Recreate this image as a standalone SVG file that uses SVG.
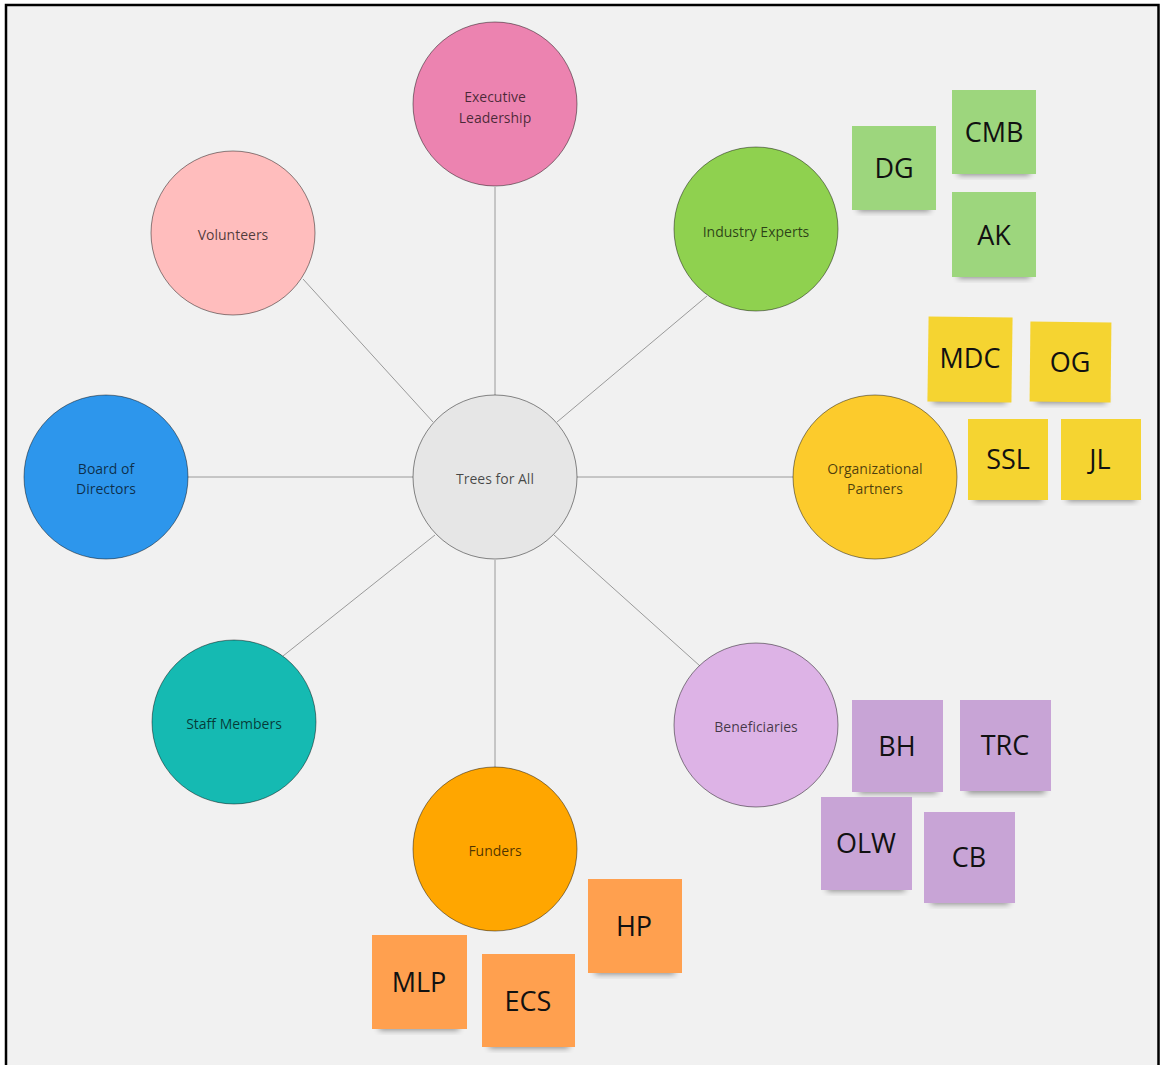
<svg xmlns="http://www.w3.org/2000/svg" width="1160" height="1065" viewBox="0 0 1160 1065">
  <defs>
    <filter id="noteShadow" x="-30%" y="-60%" width="160%" height="220%">
      <feGaussianBlur stdDeviation="3"/>
    </filter>
    <style>
      .bubble { stroke: #000; stroke-opacity: 0.45; stroke-width: 1; }
      .bubble-label { font-family: "Open Sans", "Liberation Sans", sans-serif; font-size: 14px; fill: #000; fill-opacity: 0.7; text-anchor: middle; dominant-baseline: central; }
      .link { stroke: #9a9a9a; stroke-width: 1; fill: none; }
      .note-label { font-family: "Open Sans", "Liberation Sans", sans-serif; font-size: 27px; fill: #111; text-anchor: middle; dominant-baseline: central; }
      .shadow { fill: #000; opacity: 0.45; filter: url(#noteShadow); }
      .green { fill: #9dd67d; }
      .yellow { fill: #f5d431; }
      .purple { fill: #c8a4d6; }
      .orange { fill: #ffa04f; }
    </style>
  </defs>

  <!-- canvas -->
  <rect x="0" y="0" width="1160" height="1065" fill="#ffffff"/>
  <rect x="6" y="5" width="1152.5" height="1075" fill="#f1f1f1" stroke="#000" stroke-width="2.5"/>

  <!-- connectors from hub to each group -->
  <g id="connectors">
    <line class="link" x1="495" y1="395" x2="495" y2="187"/>
    <line class="link" x1="557" y1="422" x2="707" y2="296"/>
    <line class="link" x1="577" y1="477" x2="793" y2="477"/>
    <line class="link" x1="554" y1="535" x2="700" y2="666"/>
    <line class="link" x1="495" y1="560" x2="495" y2="767"/>
    <line class="link" x1="435" y1="535" x2="283" y2="656"/>
    <line class="link" x1="413" y1="477" x2="188" y2="477"/>
    <line class="link" x1="433" y1="422" x2="303" y2="279"/>
  </g>

  <!-- stakeholder bubbles -->
  <g id="hub">
    <circle class="bubble" cx="495" cy="477" r="82" fill="#e6e6e6"/>
    <text class="bubble-label" x="495" y="478">Trees for All</text>
  </g>
  <g id="executive-leadership">
    <circle class="bubble" cx="495" cy="104" r="82" fill="#ec83b0"/>
    <text class="bubble-label" x="495" y="96">Executive</text>
    <text class="bubble-label" x="495" y="117">Leadership</text>
  </g>
  <g id="industry-experts">
    <circle class="bubble" cx="756" cy="229" r="82" fill="#8fd14f"/>
    <text class="bubble-label" x="756" y="231">Industry Experts</text>
  </g>
  <g id="organizational-partners">
    <circle class="bubble" cx="875" cy="477" r="82" fill="#fccb2c"/>
    <text class="bubble-label" x="875" y="468">Organizational</text>
    <text class="bubble-label" x="875" y="488">Partners</text>
  </g>
  <g id="beneficiaries">
    <circle class="bubble" cx="756" cy="725" r="82" fill="#ddb3e6"/>
    <text class="bubble-label" x="756" y="726">Beneficiaries</text>
  </g>
  <g id="funders">
    <circle class="bubble" cx="495" cy="849" r="82" fill="#ffa600"/>
    <text class="bubble-label" x="495" y="850">Funders</text>
  </g>
  <g id="staff-members">
    <circle class="bubble" cx="234" cy="722" r="82" fill="#15bab2"/>
    <text class="bubble-label" x="234" y="723">Staff Members</text>
  </g>
  <g id="board-of-directors">
    <circle class="bubble" cx="106" cy="477" r="82" fill="#2d96ec"/>
    <text class="bubble-label" x="106" y="468">Board of</text>
    <text class="bubble-label" x="106" y="488">Directors</text>
  </g>
  <g id="volunteers">
    <circle class="bubble" cx="233" cy="233" r="82" fill="#ffbdbd"/>
    <text class="bubble-label" x="233" y="234">Volunteers</text>
  </g>

  <!-- sticky notes: industry experts -->
  <g id="note-dg">
    <rect class="shadow" x="858" y="203" width="72" height="8"/>
    <rect class="green" x="852" y="126" width="84" height="84"/>
    <text class="note-label" x="894" y="167">DG</text>
  </g>
  <g id="note-cmb">
    <rect class="shadow" x="958" y="167" width="72" height="8"/>
    <rect class="green" x="952" y="90" width="84" height="84"/>
    <text class="note-label" x="994" y="131">CMB</text>
  </g>
  <g id="note-ak">
    <rect class="shadow" x="958" y="270" width="72" height="8"/>
    <rect class="green" x="952" y="192" width="84" height="85"/>
    <text class="note-label" x="994" y="234">AK</text>
  </g>

  <!-- sticky notes: organizational partners -->
  <g id="note-mdc">
    <rect class="shadow" x="933" y="395" width="73" height="8"/>
    <rect class="yellow" x="928" y="317" width="84" height="85" transform="rotate(0.8 970 359)"/>
    <text class="note-label" x="970" y="357">MDC</text>
  </g>
  <g id="note-og">
    <rect class="shadow" x="1036" y="395" width="70" height="8"/>
    <rect class="yellow" x="1030" y="322" width="81" height="80" transform="rotate(0.6 1070 362)"/>
    <text class="note-label" x="1070" y="361">OG</text>
  </g>
  <g id="note-ssl">
    <rect class="shadow" x="974" y="493" width="69" height="8"/>
    <rect class="yellow" x="968" y="419" width="80" height="81"/>
    <text class="note-label" x="1008" y="458">SSL</text>
  </g>
  <g id="note-jl">
    <rect class="shadow" x="1067" y="493" width="69" height="8"/>
    <rect class="yellow" x="1061" y="419" width="80" height="81"/>
    <text class="note-label" x="1100" y="458">JL</text>
  </g>

  <!-- sticky notes: beneficiaries -->
  <g id="note-bh">
    <rect class="shadow" x="859" y="785" width="78" height="8"/>
    <rect class="purple" x="852" y="700" width="91" height="92"/>
    <text class="note-label" x="897" y="745">BH</text>
  </g>
  <g id="note-trc">
    <rect class="shadow" x="967" y="785" width="78" height="8"/>
    <rect class="purple" x="960" y="700" width="91" height="91"/>
    <text class="note-label" x="1005" y="744">TRC</text>
  </g>
  <g id="note-olw">
    <rect class="shadow" x="827" y="883" width="78" height="8"/>
    <rect class="purple" x="821" y="797" width="91" height="93"/>
    <text class="note-label" x="866" y="842">OLW</text>
  </g>
  <g id="note-cb">
    <rect class="shadow" x="931" y="896" width="78" height="8"/>
    <rect class="purple" x="924" y="812" width="91" height="91"/>
    <text class="note-label" x="969" y="856">CB</text>
  </g>

  <!-- sticky notes: funders -->
  <g id="note-hp">
    <rect class="shadow" x="595" y="966" width="80" height="8"/>
    <rect class="orange" x="588" y="879" width="94" height="94"/>
    <text class="note-label" x="634" y="925">HP</text>
  </g>
  <g id="note-mlp">
    <rect class="shadow" x="379" y="1022" width="80" height="8"/>
    <rect class="orange" x="372" y="935" width="95" height="94"/>
    <text class="note-label" x="419" y="981">MLP</text>
  </g>
  <g id="note-ecs">
    <rect class="shadow" x="489" y="1040" width="80" height="8"/>
    <rect class="orange" x="482" y="954" width="93" height="93"/>
    <text class="note-label" x="528" y="1000">ECS</text>
  </g>
</svg>
